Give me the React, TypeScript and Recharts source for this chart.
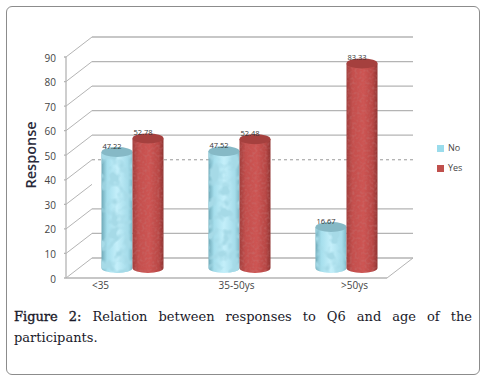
import { Bar, BarChart, CartesianGrid, LabelList, Legend, XAxis, YAxis } from "recharts";

const ageGroups = ["<35", "35-50ys", ">50ys"];
const noValues = [47.22, 47.52, 16.67];
const yesValues = [52.78, 52.48, 83.33];
const yTicks = [0, 10, 20, 30, 40, 50, 60, 70, 80, 90];

const chartData = ageGroups.map((group, i) => ({ group, No: noValues[i], Yes: yesValues[i] }));

// fake 3D: the plot area is the front plane, back wall sits up and to the right
const DEPTH_X = 26;
const DEPTH_Y = 20;
const BAR_DX = 12.5;
const BAR_DY = 10;
const AXIS_GREY = "#b4b4b4";
const TICK_FONT = "'Open Sans', sans-serif";
const categoryLabelShift = [-19, 10, 21];

function GridLine(props: any) {
  const { x1, x2, y1, index } = props;
  // 40 is dotted and 30 has no wall line in the source image
  const isFloor = index === 0;
  const isMissing = index === 3;
  const isDotted = index === 4;
  return (
    <g>
      <line x1={x1} y1={y1} x2={x1 + DEPTH_X} y2={y1 - DEPTH_Y} stroke={AXIS_GREY} strokeWidth={1} />
      {!isMissing && (
        <line
          x1={x1 + DEPTH_X}
          y1={y1 - DEPTH_Y}
          x2={x2 + DEPTH_X}
          y2={y1 - DEPTH_Y}
          stroke={isDotted ? "#999" : AXIS_GREY}
          strokeWidth={isDotted ? 1 : 1.3}
          strokeDasharray={isDotted ? "3 3" : undefined}
        />
      )}
      {isFloor && <line x1={x2} y1={y1} x2={x2 + DEPTH_X} y2={y1 - DEPTH_Y} stroke={AXIS_GREY} strokeWidth={1} />}
    </g>
  );
}

function Cylinder(props: any) {
  const { x, y, width, height, kind } = props;
  const cx = x + BAR_DX;
  const top = y - BAR_DY;
  const rx = width / 2;
  const ry = 5;
  const bottom = top + height;
  const body = `M${cx},${top} L${cx},${bottom} A${rx},${ry} 0 0 0 ${cx + width},${bottom} L${cx + width},${top} Z`;
  return (
    <g>
      <path d={body} fill={`url(#${kind}Body)`} />
      <path d={body} fill="#fff" filter={`url(#${kind}Grain)`} />
      <ellipse cx={cx + rx} cy={top} rx={rx} ry={ry} fill={kind === "no" ? "#86b9c6" : "#a5403e"} />
    </g>
  );
}

function BarValue(props: any) {
  const { x, y, width, value } = props;
  return (
    <text
      x={x + BAR_DX + width / 2 - 5}
      y={y - BAR_DY - 3}
      textAnchor="middle"
      fontSize={7.5}
      fontFamily={TICK_FONT}
      fill="#333"
    >
      {value.toFixed(2)}
    </text>
  );
}

function CategoryTick(props: any) {
  const { x, y, payload, index } = props;
  return (
    <text x={x + categoryLabelShift[index]} y={y + 3} textAnchor="middle" fontSize={10} fontFamily={TICK_FONT} fill="#444">
      {payload.value}
    </text>
  );
}

export default function App() {
  return (
    <div style={{ position: "absolute", left: 0, top: 0, width: 496, height: 378, background: "#fff", overflow: "hidden" }}>
      <div
        style={{
          position: "absolute",
          left: 6,
          top: 6,
          width: 472,
          height: 367,
          border: "1.5px solid #8c8c8c",
          borderRadius: 6,
        }}
      />
      <BarChart
        width={496}
        height={378}
        data={chartData}
        barSize={31}
        barGap={0}
        margin={{ top: 57, right: 109, bottom: 70, left: 0 }}
        style={{ position: "absolute", left: 0, top: 0 }}
      >
        <defs>
          <linearGradient id="noBody" x1="0" x2="1" y1="0" y2="0">
            <stop offset="0" stopColor="#6fa9b8" />
            <stop offset="0.18" stopColor="#a5deec" />
            <stop offset="0.5" stopColor="#c4effa" />
            <stop offset="0.85" stopColor="#a5dcea" />
            <stop offset="1" stopColor="#7fb8c7" />
          </linearGradient>
          <linearGradient id="yesBody" x1="0" x2="1" y1="0" y2="0">
            <stop offset="0" stopColor="#a23f3d" />
            <stop offset="0.2" stopColor="#c44f4d" />
            <stop offset="0.55" stopColor="#cd5553" />
            <stop offset="0.85" stopColor="#b84745" />
            <stop offset="1" stopColor="#8f3533" />
          </linearGradient>
          <filter id="noGrain" x="0" y="0" width="1" height="1">
            <feTurbulence type="fractalNoise" baseFrequency="0.1" numOctaves="2" seed="4" />
            <feColorMatrix
              type="matrix"
              values="0 0 0 0 0.38  0 0 0 0 0.7  0 0 0 0 0.8  4.5 0 0 0 -2"
            />
            <feComposite in2="SourceGraphic" operator="in" />
          </filter>
          <filter id="yesGrain" x="0" y="0" width="1" height="1">
            <feTurbulence type="fractalNoise" baseFrequency="0.4" numOctaves="1" seed="2" />
            <feColorMatrix
              type="matrix"
              values="0 0 0 0 0.55  0 0 0 0 0.2  0 0 0 0 0.2  1 0 0 0 -0.45"
            />
            <feComposite in2="SourceGraphic" operator="in" />
          </filter>
        </defs>
        <CartesianGrid vertical={false} horizontal={(p: any) => <GridLine key={p.index} {...p} />} />
        <XAxis
          dataKey="group"
          stroke={AXIS_GREY}
          strokeWidth={1.3}
          tickLine={false}
          height={30}
          interval={0}
          tick={(p: any) => <CategoryTick {...p} />}
        />
        <YAxis
          domain={[0, 90]}
          ticks={yTicks}
          width={66}
          stroke={AXIS_GREY}
          strokeWidth={1.3}
          tickSize={2}
          tickMargin={8}
          interval={0}
          tick={{ fontSize: 10, fontFamily: TICK_FONT, fill: "#444", dy: 1 }}
          label={{
            value: "Response",
            angle: -90,
            position: "insideLeft",
            offset: 0,
            dx: 31,
            dy: 21,
            fontSize: 14.5,
            fontWeight: 600,
            fontFamily: TICK_FONT,
            fill: "#2a2a3a",
          }}
        />
        <Legend
          layout="vertical"
          align="center"
          verticalAlign="middle"
          iconType="square"
          iconSize={7}
          wrapperStyle={{ left: 437, top: 138, width: 40, fontSize: 9, fontFamily: TICK_FONT, lineHeight: "20px" }}
          formatter={(value: string) => <span style={{ color: "#444" }}>{value}</span>}
        />
        <Bar dataKey="No" fill="#9adcec" isAnimationActive={false} shape={(p: any) => <Cylinder {...p} kind="no" />}>
          <LabelList dataKey="No" content={(p: any) => <BarValue {...p} />} />
        </Bar>
        <Bar dataKey="Yes" fill="#c0504d" isAnimationActive={false} shape={(p: any) => <Cylinder {...p} kind="yes" />}>
          <LabelList dataKey="Yes" content={(p: any) => <BarValue {...p} />} />
        </Bar>
      </BarChart>
      <div
        style={{
          position: "absolute",
          left: 14,
          top: 306,
          width: 458,
          fontFamily: "'DejaVu Serif', serif",
          fontSize: 13,
          lineHeight: "21px",
          color: "#1a1a2a",
        }}
      >
        <div style={{ textAlign: "justify", textAlignLast: "justify", whiteSpace: "nowrap" }}>
          <span style={{ WebkitTextStroke: "0.35px #1a1a2a" }}>Figure 2:</span> Relation between responses to Q6 and age of the
        </div>
        <div>participants.</div>
      </div>
    </div>
  );
}
